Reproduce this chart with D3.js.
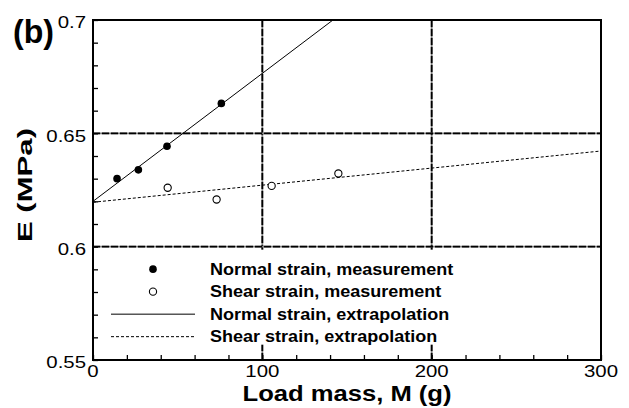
<!DOCTYPE html>
<html>
<head>
<meta charset="utf-8">
<title>E vs load mass</title>
<style>
  body { margin: 0; background: #fff; }
  svg { display: block; font-family: "Liberation Sans", Arial, Helvetica, sans-serif; }
</style>
</head>
<body>
<svg width="629" height="408"></svg>
<script src="https://cdnjs.cloudflare.com/ajax/libs/d3/7.8.5/d3.min.js"></script>
<script>
// measured points
var normalMass = [14.2, 26.8, 43.7, 75.8],
    normalE    = [0.630, 0.6339, 0.6443, 0.6632];
var shearMass  = [44.1, 73.0, 105.5, 144.9],
    shearE     = [0.626, 0.6208, 0.6268, 0.6323];

// extrapolation lines (end points)
var normalFitMass = [0, 141.7], normalFitE = [0.6200, 0.7];
var shearFitMass  = [0, 300],   shearFitE  = [0.6196, 0.6422];

var xTicks = [0, 100, 200, 300],
    yTicks = [0.55, 0.6, 0.65, 0.7],
    xGrid = [100, 200],
    yGrid = [0.6, 0.65];

var legendLabels = ["Normal strain, measurement", "Shear strain, measurement",
                    "Normal strain, extrapolation", "Shear strain, extrapolation"];

var svg = d3.select("svg"),
    margin = {top: 20, right: 28, bottom: 48, left: 93},
    width = +svg.attr("width") - margin.left - margin.right,
    height = +svg.attr("height") - margin.top - margin.bottom,
    g = svg.append("g").attr("transform", "translate(" + margin.left + "," + margin.top + ")");

var x = d3.scaleLinear().domain([0, 300]).range([0, width]);
var y = d3.scaleLinear().domain([0.55, 0.7]).range([height, 0]);

// stretch text a bit, the original font is wider than ours
function stretch(sel, k) {
  sel.each(function() {
    var n = this.getComputedTextLength();
    d3.select(this).attr("textLength", n * k).attr("lengthAdjust", "spacingAndGlyphs");
  });
}

// grid: grey line under black dashes
function gridLines(cls, data, x1, y1, x2, y2) {
  [["#808080", null], ["#000", "7,2"]].forEach(function(st) {
    g.selectAll("." + cls + st[0].slice(1))
      .data(data).enter().append("line")
      .attr("x1", x1).attr("y1", y1).attr("x2", x2).attr("y2", y2)
      .attr("stroke", st[0]).attr("stroke-width", 1.8)
      .attr("stroke-dasharray", st[1]);
  });
}
gridLines("gx", xGrid, function(d) { return x(d); }, 0, function(d) { return x(d); }, height);
gridLines("gy", yGrid, 0, function(d) { return y(d); }, width, function(d) { return y(d); });

// white legend background covering the grid
g.append("rect")
  .attr("x", 8).attr("y", y(0.6) + 3)
  .attr("width", 370).attr("height", 95)
  .attr("fill", "#fff");

// fit lines
var line = d3.line().x(function(d) { return x(d[0]); }).y(function(d) { return y(d[1]); });
g.append("path")
  .datum(d3.zip(normalFitMass, normalFitE))
  .attr("d", line).attr("fill", "none").attr("stroke", "#000").attr("stroke-width", 1);
g.append("path")
  .datum(d3.zip(shearFitMass, shearFitE))
  .attr("d", line).attr("fill", "none").attr("stroke", "#000").attr("stroke-width", 1)
  .attr("stroke-dasharray", "3,2");

// points
g.selectAll(".np").data(d3.zip(normalMass, normalE)).enter().append("circle")
  .attr("cx", function(d) { return x(d[0]); })
  .attr("cy", function(d) { return y(d[1]); })
  .attr("r", 3.8).attr("fill", "#000");
g.selectAll(".sp").data(d3.zip(shearMass, shearE)).enter().append("circle")
  .attr("cx", function(d) { return x(d[0]); })
  .attr("cy", function(d) { return y(d[1]); })
  .attr("r", 3.6).attr("fill", "#fff").attr("stroke", "#000").attr("stroke-width", 1.1);

// frame
g.append("rect")
  .attr("width", width).attr("height", height)
  .attr("fill", "none").attr("stroke", "#000").attr("stroke-width", 2);

// axes with inward minor ticks
var xAxis = g.append("g").attr("transform", "translate(0," + height + ")")
  .call(d3.axisBottom(x).tickValues(d3.range(0, 301, 20)).tickSize(-5).tickFormat(""));
var yAxis = g.append("g")
  .call(d3.axisLeft(y).tickValues(d3.range(0, 16).map(function(i) { return 0.55 + i * 0.01; }))
        .tickSize(-5).tickFormat(""));
[xAxis, yAxis].forEach(function(a) {
  a.select(".domain").remove();
  a.selectAll("line").attr("stroke", "#000").attr("stroke-width", 1.3);
});

// tick labels
var xl = g.selectAll(".xl").data(xTicks).enter().append("text")
  .attr("x", function(d) { return x(d); })
  .attr("y", height + 17)
  .attr("text-anchor", "middle")
  .attr("font-size", 17)
  .attr("fill", "#000")
  .text(function(d) { return d; });
stretch(xl, 1.2);

var yl = g.selectAll(".yl").data(yTicks).enter().append("text")
  .attr("x", -7)
  .attr("y", function(d) { return y(d) + 8.4; })
  .attr("text-anchor", "end")
  .attr("font-size", 17)
  .attr("fill", "#000")
  .text(function(d) { return d3.format("")(+d.toFixed(2)); });
stretch(yl, 1.2);

// axis titles
svg.append("text")
  .attr("x", margin.left + width / 2).attr("y", 401)
  .attr("text-anchor", "middle").attr("font-weight", "bold").attr("font-size", 22)
  .attr("textLength", 209).attr("lengthAdjust", "spacingAndGlyphs")
  .text("Load mass, M (g)");

svg.append("text")
  .attr("transform", "translate(31.5,185) rotate(-90)")
  .attr("text-anchor", "middle").attr("font-weight", "bold").attr("font-size", 20)
  .attr("textLength", 114).attr("lengthAdjust", "spacingAndGlyphs")
  .text("E (MPa)");

svg.append("text")
  .attr("x", 13).attr("y", 43)
  .attr("font-weight", "bold").attr("font-size", 34)
  .attr("textLength", 41).attr("lengthAdjust", "spacingAndGlyphs")
  .text("(b)");

// legend
var leg = g.append("g").attr("transform", "translate(0," + (y(0.6) + 22.5) + ")");
var rowH = 22.5;
leg.append("circle").attr("cx", 60).attr("cy", 0).attr("r", 3.8).attr("fill", "#000");
leg.append("circle").attr("cx", 60).attr("cy", rowH).attr("r", 3.6)
  .attr("fill", "#fff").attr("stroke", "#000").attr("stroke-width", 1.1);
leg.append("line").attr("x1", 18).attr("x2", 102).attr("y1", rowH * 2).attr("y2", rowH * 2)
  .attr("stroke", "#000").attr("stroke-width", 1);
leg.append("line").attr("x1", 18).attr("x2", 102).attr("y1", rowH * 3).attr("y2", rowH * 3)
  .attr("stroke", "#000").attr("stroke-width", 1).attr("stroke-dasharray", "3,2");
var lt = leg.selectAll(".lt").data(legendLabels).enter().append("text")
  .attr("x", 117)
  .attr("y", function(d, i) { return i * rowH + 5.5; })
  .attr("font-weight", "bold").attr("font-size", 17)
  .text(function(d) { return d; });
stretch(lt, 1.06);
</script>
</body>
</html>
